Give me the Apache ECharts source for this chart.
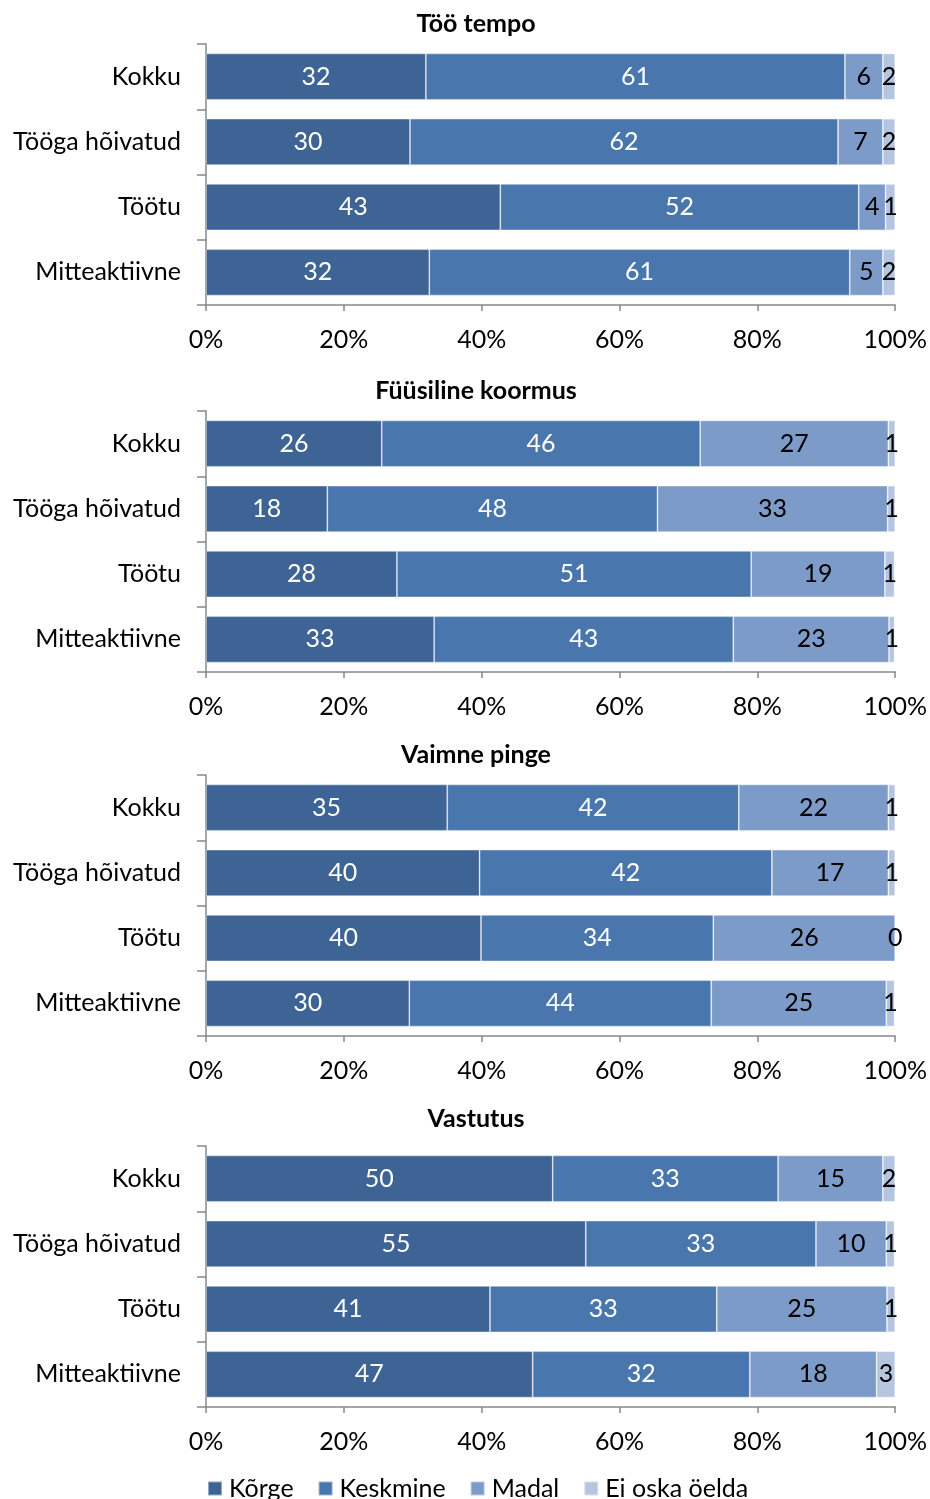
<!DOCTYPE html>
<html><head><meta charset="utf-8">
<script src="https://cdn.jsdelivr.net/npm/echarts@6/dist/echarts.min.js"></script>
<style>html,body{margin:0;padding:0;background:#fff}#c{width:930px;height:1499px}</style>
</head><body><div id="c"></div>
<script>
const categories = ['Kokku', 'Tööga hõivatud', 'Töötu', 'Mitteaktiivne'];
const seriesNames = ['Kõrge', 'Keskmine', 'Madal', 'Ei oska öelda'];
const panelTitles = ['Töö tempo', 'Füüsiline koormus', 'Vaimne pinge', 'Vastutus'];
const xTickLabels = ['0%', '20%', '40%', '60%', '80%', '100%'];

// Töö tempo
const tempoKorge    = [31.9, 29.6, 42.7, 32.4];
const tempoKeskmine = [60.8, 62.1, 52.0, 61.0];
const tempoMadal    = [5.5, 6.5, 3.9, 4.8];
const tempoEiOska   = [1.8, 1.8, 1.4, 1.8];
// Füüsiline koormus
const fyysKorge    = [25.5, 17.6, 27.7, 33.1];
const fyysKeskmine = [46.2, 47.9, 51.4, 43.4];
const fyysMadal    = [27.3, 33.4, 19.4, 22.6];
const fyysEiOska   = [1.0, 1.1, 1.4, 0.8];
// Vaimne pinge
const vaimKorge    = [35.0, 39.7, 39.9, 29.5];
const vaimKeskmine = [42.3, 42.4, 33.7, 43.8];
const vaimMadal    = [21.7, 16.9, 26.4, 25.4];
const vaimEiOska   = [1.0, 1.0, 0.0, 1.2];
// Vastutus
const vastKorge    = [50.3, 55.1, 41.2, 47.4];
const vastKeskmine = [32.7, 33.4, 32.9, 31.5];
const vastMadal    = [15.2, 10.2, 24.7, 18.4];
const vastEiOska   = [1.8, 1.2, 1.2, 2.7];

const panels = [
  [tempoKorge, tempoKeskmine, tempoMadal, tempoEiOska],
  [fyysKorge, fyysKeskmine, fyysMadal, fyysEiOska],
  [vaimKorge, vaimKeskmine, vaimMadal, vaimEiOska],
  [vastKorge, vastKeskmine, vastMadal, vastEiOska]
];

const colors = ['#3d6494', '#4876ad', '#7d9bc8', '#b5c5e0'];
const labelColors = ['#ffffff', '#ffffff', '#000000', '#000000'];
const FONT = 'Lato';
const FS = 25;

const gridTops = [44, 411, 775, 1146];
const gridH = 261;
const titleY = [6, 373, 737, 1101];

const grids = [], xAxes = [], yAxes = [], series = [], titles = [];
panels.forEach((panel, p) => {
  grids.push({left: 206, right: 33, top: gridTops[p], height: gridH});
  titles.push({
    text: panelTitles[p], left: 471, top: titleY[p], textAlign: 'center',
    textStyle: {fontFamily: FONT, fontSize: 25, fontWeight: 'bold', color: '#000'}
  });
  xAxes.push({
    type: 'value', gridIndex: p, min: 0, max: 100, interval: 20,
    axisLine: {show: true, lineStyle: {color: '#888', width: 1.5}},
    axisTick: {show: true, length: 6, lineStyle: {color: '#888', width: 1.5}},
    splitLine: {show: false},
    axisLabel: {
      margin: 22, color: '#000', fontFamily: FONT, fontSize: FS,
      formatter: v => xTickLabels[Math.round(v / 20)]
    }
  });
  yAxes.push({
    type: 'category', gridIndex: p, data: categories, inverse: true,
    axisLine: {show: true, lineStyle: {color: '#888', width: 1.5}},
    axisTick: {show: true, length: 9, lineStyle: {color: '#888', width: 1.5}},
    axisLabel: {margin: 25, color: '#000', fontFamily: FONT, fontSize: FS, padding: [3, 0, 0, 0]}
  });
  panel.forEach((vals, s) => {
    series.push({
      type: 'bar', name: seriesNames[s], xAxisIndex: p, yAxisIndex: p,
      stack: 'st' + p, data: vals, barWidth: '71%',
      itemStyle: {color: colors[s], borderColor: 'rgba(255,255,255,0.45)', borderWidth: 0.8},
      label: {
        show: true, position: 'inside', color: labelColors[s],
        fontFamily: FONT, fontSize: FS, offset: [0, 2],
        formatter: d => String(Math.round(d.value))
      },
      labelLayout: {hideOverlap: false},
      emphasis: {disabled: true}
    });
  });
});

const chart = echarts.init(document.getElementById('c'), null, {renderer: 'canvas'});
chart.setOption({
  animation: false,
  color: colors,
  title: titles,
  grid: grids,
  xAxis: xAxes,
  yAxis: yAxes,
  series: series,
  legend: {
    data: seriesNames, left: 202, top: 1471, itemWidth: 14, itemHeight: 14,
    itemGap: 24, icon: 'rect',
    textStyle: {fontFamily: FONT, fontSize: FS, color: '#000', padding: [0, 0, 0, 2]}
  }
});
</script></body></html>
